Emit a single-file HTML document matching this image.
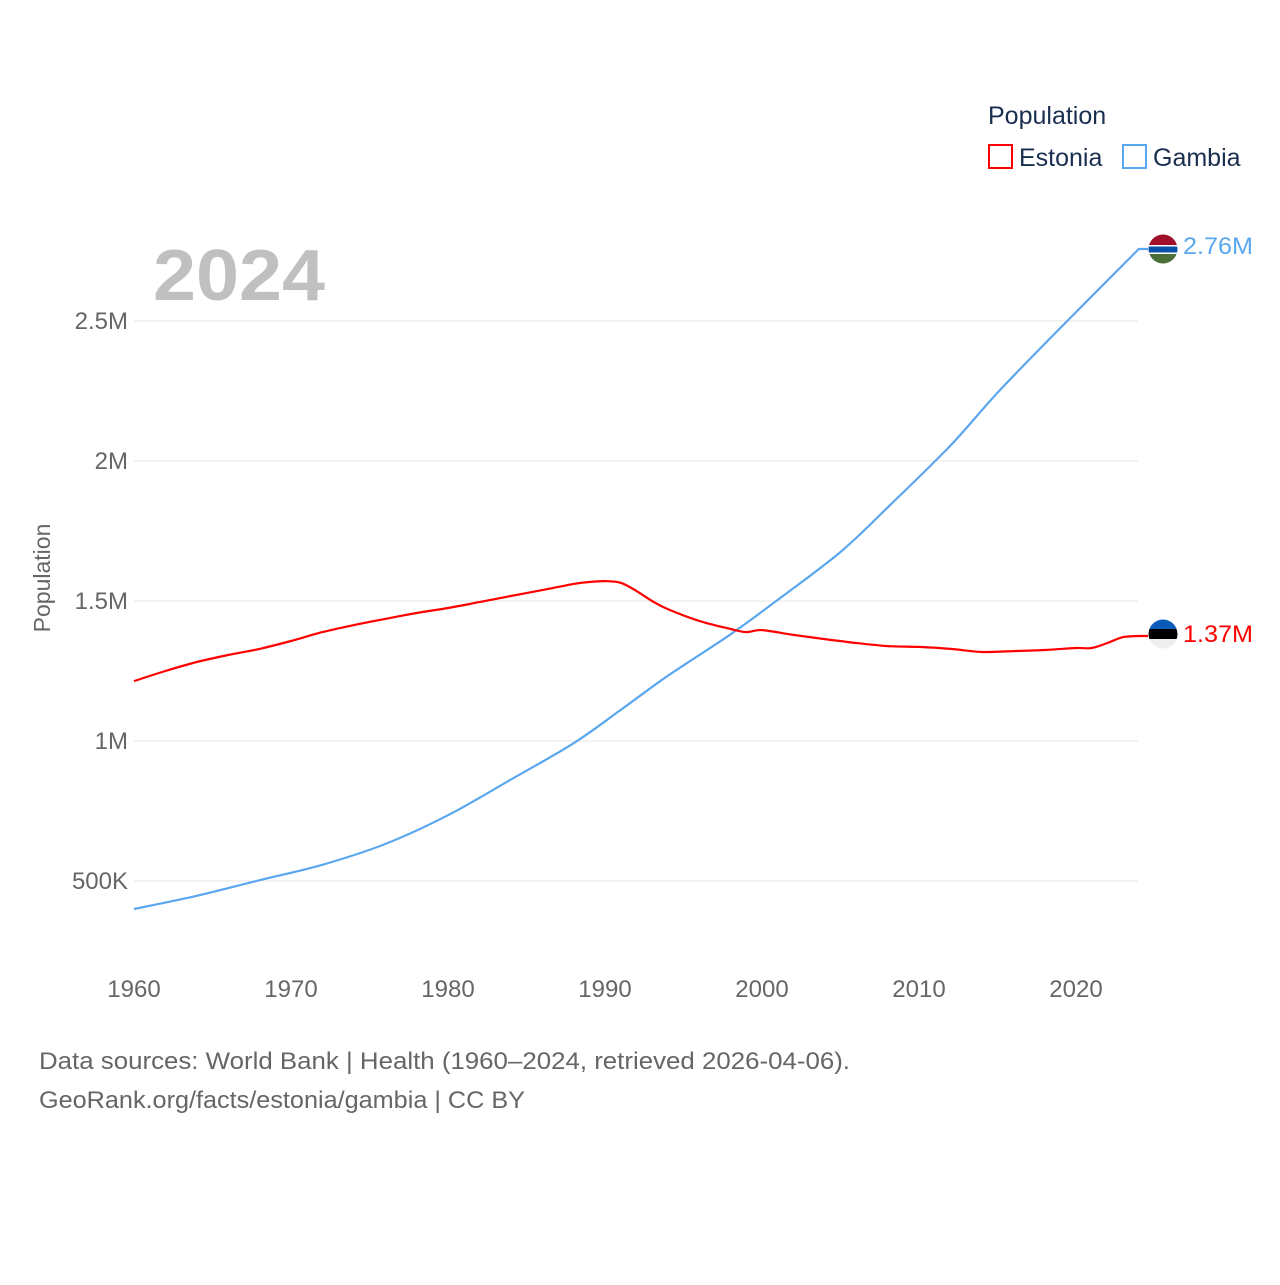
<!DOCTYPE html>
<html><head><meta charset="utf-8"><style>
body{margin:0;background:#fff;width:1280px;height:1280px;overflow:hidden;font-family:"Liberation Sans",sans-serif}
svg text{font-family:"Liberation Sans",sans-serif}
</style></head><body>
<svg id="chart" width="1280" height="1280" xmlns="http://www.w3.org/2000/svg">
<defs>
<clipPath id="cg"><circle cx="1163" cy="249" r="14.5"/></clipPath>
<clipPath id="ce"><circle cx="1163" cy="634" r="14.5"/></clipPath>
</defs>
<g id="grid"></g>
<g id="yticks"></g>
<g id="xticks"></g>
<text x="153" y="300" font-size="72" font-weight="bold" fill="#c0c0c0" textLength="172" lengthAdjust="spacingAndGlyphs">2024</text>
<text transform="translate(50,578) rotate(-90)" text-anchor="middle" font-size="23" fill="#666">Population</text>
<g>
<text x="988" y="124" font-size="25" fill="#1a2e50">Population</text>
<rect x="989" y="145" width="23" height="23" fill="none" stroke="#ff0000" stroke-width="2"/>
<text x="1019" y="166" font-size="25" fill="#1a2e50">Estonia</text>
<rect x="1123" y="145" width="23" height="23" fill="none" stroke="#5ba7ef" stroke-width="2"/>
<text x="1153" y="166" font-size="25" fill="#1a2e50">Gambia</text>
</g>
<g id="series"></g>
<g clip-path="url(#cg)">
<rect x="1148" y="234" width="30" height="11" fill="#a0102a"/>
<rect x="1148" y="245" width="30" height="9" fill="#fff"/>
<rect x="1148" y="246.5" width="30" height="6" fill="#0a4fa8"/>
<rect x="1148" y="254" width="30" height="11" fill="#4a7038"/>
</g>
<g clip-path="url(#ce)">
<rect x="1148" y="619" width="30" height="10" fill="#0a5bb8"/>
<rect x="1148" y="629" width="30" height="10" fill="#000"/>
<rect x="1148" y="639" width="30" height="11" fill="#eee"/>
</g>
<text x="1183" y="254" font-size="24" fill="#5ba7ef" textLength="70" lengthAdjust="spacingAndGlyphs">2.76M</text>
<text x="1183" y="642" font-size="24" fill="#ff0000" textLength="70" lengthAdjust="spacingAndGlyphs">1.37M</text>
<text x="39" y="1069" font-size="24" fill="#666" textLength="811" lengthAdjust="spacingAndGlyphs">Data sources: World Bank | Health (1960–2024, retrieved 2026-04-06).</text>
<text x="39" y="1108" font-size="24" fill="#666" textLength="486" lengthAdjust="spacingAndGlyphs">GeoRank.org/facts/estonia/gambia | CC BY</text>
</svg>
<script>
const estYears=[1960,1962,1964,1966,1968,1970,1972,1974,1976,1978,1980,1982,1984,1986,1988,1989,1990,1991,1992,1993,1994,1996,1998,1999,2000,2002,2004,2006,2008,2010,2012,2014,2016,2018,2020,2021,2022,2023,2024];
const estValues=[1.214,1.25,1.282,1.307,1.329,1.357,1.389,1.414,1.436,1.457,1.475,1.496,1.518,1.539,1.561,1.568,1.571,1.565,1.536,1.5,1.471,1.429,1.4,1.389,1.396,1.379,1.364,1.35,1.339,1.336,1.329,1.318,1.321,1.325,1.332,1.332,1.35,1.371,1.375];
const gamYears=[1960,1964,1968,1972,1976,1980,1984,1988,1991,1994,1998,2001,2005,2008,2012,2015,2019,2024];
const gamValues=[0.400,0.447,0.503,0.558,0.632,0.735,0.862,0.992,1.111,1.233,1.381,1.504,1.675,1.834,2.055,2.244,2.475,2.757];
const yTicks=[0.5,1,1.5,2,2.5];
const yTickLabels=["500K","1M","1.5M","2M","2.5M"];
const xTicks=[1960,1970,1980,1990,2000,2010,2020];
const NS="http://www.w3.org/2000/svg";
const xs=y=>134+(y-1960)*(1076-134)/60;
const ys=v=>881-(v-0.5)*280;
function mk(tag,attrs,parent){const e=document.createElementNS(NS,tag);for(const k in attrs)e.setAttribute(k,attrs[k]);document.getElementById(parent).appendChild(e);return e;}
yTicks.forEach((t,i)=>{
 const l=mk('line',{x1:134,x2:1138,y1:ys(t),y2:ys(t),stroke:'#e6e6e6','stroke-width':1},'grid');
 
 
 const tx=mk('text',{x:128,y:ys(t)+8,'text-anchor':'end','font-size':24,fill:'#666'},'yticks');
 tx.textContent=yTickLabels[i];
 
 
});
xTicks.forEach(t=>{
 const tx=mk('text',{x:xs(t),y:997,'text-anchor':'middle','font-size':24,fill:'#666'},'xticks');
 tx.textContent=t;
 
 
});
function line(years,vals,color,name,smooth){
 const P=years.map((y,i)=>[xs(y),ys(vals[i])]);
 let d='M'+P[0][0].toFixed(1)+','+P[0][1].toFixed(1);
 for(let i=0;i<P.length-1;i++){
  if(!smooth){d+=' L'+P[i+1][0].toFixed(1)+','+P[i+1][1].toFixed(1);continue;}
  const p0=P[Math.max(0,i-1)],p1=P[i],p2=P[i+1],p3=P[Math.min(P.length-1,i+2)];
  const c1=[p1[0]+(p2[0]-p0[0])/6,p1[1]+(p2[1]-p0[1])/6];
  const c2=[p2[0]-(p3[0]-p1[0])/6,p2[1]-(p3[1]-p1[1])/6];
  d+=' C'+c1.map(v=>v.toFixed(1)).join(',')+' '+c2.map(v=>v.toFixed(1)).join(',')+' '+p2.map(v=>v.toFixed(1)).join(',');
 }
 d+=' L1148,'+ys(vals[vals.length-1]).toFixed(1);
 const p=mk('path',{d:d,fill:'none',stroke:color,'stroke-width':2.2,'stroke-linejoin':'round'},'series');
 
 
}
line(gamYears,gamValues,'#5ba7ef','gambia-line',true);
line(estYears,estValues,'#ff0000','estonia-line',true);
</script>
</body></html>
